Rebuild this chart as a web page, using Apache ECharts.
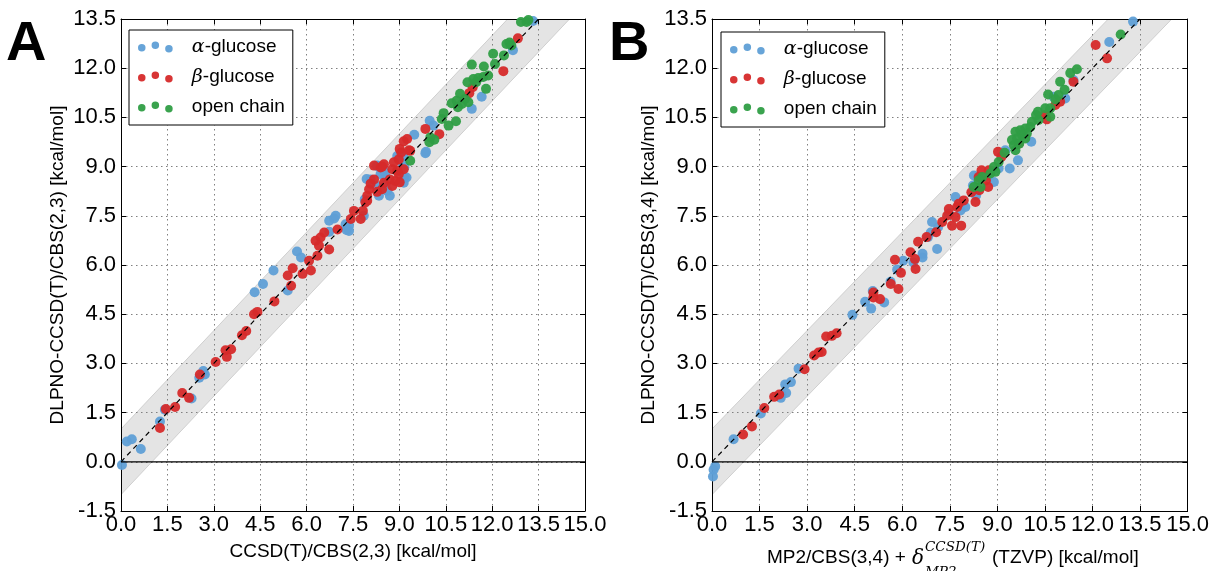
<!DOCTYPE html>
<html><head><meta charset="utf-8">
<script src="https://cdn.jsdelivr.net/npm/echarts@6/dist/echarts.min.js"></script>
<style>html,body{margin:0;padding:0;background:#fff}#c{width:1212px;height:571px}</style>
</head><body><div id="c"></div>
<script>
// ---------- data ----------
var seriesNames = ['α-glucose', 'β-glucose', 'open chain'];
var ticksX = [0, 1.5, 3, 4.5, 6, 7.5, 9, 10.5, 12, 13.5, 15];
var ticksY = [-1.5, 0, 1.5, 3, 4.5, 6, 7.5, 9, 10.5, 12, 13.5];
var bandX = [0, 15];       // x extent of the ±1 kcal/mol band
var bandHalf = 1;          // band half width
var diagLine = [[0, 0], [13.5, 13.5]];
var zeroLine = [[0, 0], [15, 0]];

// Panel A: CCSD(T)/CBS(2,3) vs DLPNO-CCSD(T)/CBS(2,3)
var alphaA = [[0.03,-0.1],[0.19,0.62],[0.35,0.69],[0.64,0.39],[1.26,1.23],[1.42,1.59],[2.28,1.93],[2.53,2.56],[2.66,2.77],[2.71,2.66],
 [4.32,5.17],[4.59,5.42],[4.93,5.83],[5.39,5.22],[5.69,6.41],[5.82,6.23],[6.73,7.35],[6.89,7.42],[6.73,7.01],[7.29,7.07],[7.37,7.2],
 [7.85,7.5],[7.91,7.96],[8.26,8.41],[8.28,9.02],[8.39,8.77],[8.55,8.72],[8.61,8.26],[8.34,8.11],[9.14,8.51],[9.16,8.67],[9.84,9.41],
 [9.09,9.12],[8.93,9.32],[8.07,8.61],[11.66,11.13],[11.34,10.76],[9.98,10.4],[10.1,10.25],[9.48,9.97],[9.86,9.45],[9.12,9.33],
 [9.16,8.98],[9.23,8.67],[8.5,8.87],[8.28,9.03],[7.94,8.62],[8.44,8.36],[8.55,8.47],[8.69,8.11],[7.88,8.0],[6.94,7.5],[7.26,7.24],
 [7.37,7.04],[12.67,12.55],[13.32,13.44]];
var betaA = [[1.26,1.03],[1.45,1.61],[1.75,1.67],[1.98,2.1],[2.2,1.95],[2.55,2.66],[3.06,3.04],[3.38,3.4],[3.42,3.2],[3.56,3.43],
 [3.91,3.86],[4.05,3.99],[4.3,4.5],[4.41,4.57],[4.96,4.89],[5.5,5.37],[5.39,5.68],[5.55,5.9],[5.87,5.73],[6.14,5.83],[6.08,6.13],
 [6.35,6.28],[6.29,6.74],[6.45,6.84],[6.57,6.99],[6.4,6.59],[6.73,6.47],[7.0,7.08],[7.43,7.4],[7.53,7.65],[7.82,7.65],[7.75,7.4],
 [7.96,7.96],[8.02,8.31],[8.07,8.48],[8.18,8.61],[8.28,8.23],[8.44,8.31],[8.5,8.51],[8.69,8.61],[8.77,8.41],[8.87,8.56],[8.98,8.77],
 [8.77,8.92],[8.39,8.97],[8.5,9.07],[8.98,9.22],[9.06,9.43],[9.35,9.48],[9.14,8.92],[12.36,11.91],[11.37,11.42],[11.26,11.24],
 [9.84,10.15],[10.29,9.99],[9.14,9.77],[9.25,9.84],[9.01,9.54],[9.31,9.5],[8.82,9.13],[8.93,8.87],[9.01,8.52],[8.44,9.0],[8.18,9.03],
 [7.96,8.11],[7.9,7.91],[12.83,12.91]];
var openA = [[12.03,12.44],[12.38,12.39],[12.46,12.74],[12.09,12.13],[11.73,12.05],[11.34,12.11],[11.87,11.78],[11.71,11.73],
 [11.55,11.7],[11.39,11.67],[11.2,11.57],[11.48,11.57],[11.8,11.37],[10.96,11.22],[11.12,11.06],[10.85,11.01],[11.02,10.91],
 [10.69,10.93],[10.89,10.81],[10.43,10.63],[10.37,10.45],[10.59,10.25],[10.83,10.38],[10.0,9.89],[9.97,9.74],[10.13,9.82],
 [9.35,9.18],[11.23,10.96],[12.93,13.41],[13.11,13.41],[13.17,13.47],[12.56,12.78],[12.62,12.69]];

// Panel B: MP2/CBS(3,4) + delta correction vs DLPNO-CCSD(T)/CBS(3,4)
var alphaB = [[0.05,-0.24],[0.03,-0.45],[0.1,-0.14],[0.68,0.69],[1.54,1.47],[2.2,2.05],[2.34,2.1],[2.31,2.36],[2.49,2.43],[2.17,1.95],
 [2.73,2.84],[4.43,4.48],[4.83,4.88],[5.02,4.67],[5.07,5.21],[5.43,4.86],[5.63,5.49],[5.84,5.86],[6.03,6.13],[6.35,6.08],[6.64,6.23],
 [6.64,6.34],[6.9,6.99],[7.13,7.15],[7.1,6.49],[10.07,9.76],[9.65,9.19],[9.39,8.94],[9.25,9.5],[9.04,8.94],[8.89,8.53],[8.71,8.73],
 [8.26,8.73],[8.23,8.42],[8.33,8.12],[7.68,8.07],[7.99,7.77],[7.84,7.66],[7.47,7.56],[6.94,7.31],[6.81,6.85],[11.14,11.08],
 [10.77,11.13],[11.4,11.64],[12.53,12.8],[13.28,13.42]];
var betaB = [[0.98,0.83],[1.26,1.08],[1.65,1.64],[1.96,1.98],[2.12,2.05],[2.92,2.82],[3.22,3.24],[3.36,3.33],[3.46,3.35],[3.6,3.82],
 [3.78,3.84],[3.93,3.92],[5.77,6.16],[5.64,5.42],[5.88,5.27],[5.96,5.76],[6.26,6.39],[6.4,6.18],[6.42,5.88],[6.5,6.71],[6.77,6.85],
 [5.09,5.16],[5.3,4.96],[5.09,5.01],[11.4,11.59],[9.02,9.45],[9.13,9.3],[10.49,10.57],[10.56,10.44],[9.67,9.7],[8.5,8.89],[8.73,8.89],
 [8.41,8.68],[8.64,8.58],[8.71,8.38],[8.43,8.28],[8.18,8.22],[8.31,7.92],[7.94,7.97],[7.78,7.87],[7.73,7.77],[7.47,7.71],[7.42,7.51],
 [7.68,7.46],[7.26,7.31],[7.57,7.2],[7.86,7.2],[7.07,7.0],[10.98,10.98],[10.83,10.88],[12.1,12.71],[12.46,12.3]];
var openB = [[11.3,11.85],[11.51,11.97],[10.98,11.59],[10.6,11.2],[11.12,11.34],[10.93,11.18],[10.83,11.05],[10.67,10.78],[10.28,10.67],
 [10.09,10.37],[10.3,10.42],[10.04,10.21],[9.88,10.16],[9.72,10.11],[9.57,10.06],[9.93,10.01],[9.78,9.96],[9.62,9.86],[9.46,9.81],
 [9.52,9.65],[9.69,9.7],[9.88,9.86],[9.57,9.5],[9.23,9.42],[9.04,9.14],[8.89,8.99],[8.94,8.84],[8.78,8.79],[8.52,8.68],[8.41,8.58],
 [8.47,8.38],[8.26,8.38],[10.51,10.78],[10.67,10.52],[10.22,10.57],[12.89,13.03]];

// ---------- styles ----------
var COLORS = ['#5f9fd6', '#d62a2a', '#2f9e44'];
var FONT = 'Liberation Sans, Arial, sans-serif';
var SERIF = 'DejaVu Serif, serif';

function xAxes(grid, pos) {
  var bottom = pos === 'bottom';
  return {
    type: 'value', gridIndex: grid, position: pos, min: ticksX[0], max: ticksX[ticksX.length - 1], interval: 1.5,
    axisLine: {show: true, onZero: false, lineStyle: {color: '#000', width: 1}},
    axisTick: {show: true, inside: true, length: 5, lineStyle: {color: '#000'}},
    axisLabel: {show: bottom, color: '#000', fontSize: 22, fontFamily: FONT, margin: 3,
      formatter: function (v) { return v.toFixed(1); }},
    splitLine: {show: bottom, lineStyle: {color: '#808080', type: [1.5, 3.5], width: 1}}
  };
}
function yAxes(grid, pos) {
  var left = pos === 'left';
  return {
    type: 'value', gridIndex: grid, position: pos, min: ticksY[0], max: ticksY[ticksY.length - 1], interval: 1.5,
    axisLine: {show: true, onZero: false, lineStyle: {color: '#000', width: 1}},
    axisTick: {show: true, inside: true, length: 5, lineStyle: {color: '#000'}},
    axisLabel: {show: left, color: '#000', fontSize: 22, fontFamily: FONT, margin: 5,
      formatter: function (v) { return v.toFixed(1); }},
    splitLine: {show: left, lineStyle: {color: '#808080', type: [1.5, 3.5], width: 1}}
  };
}

var xa = [xAxes(0, 'bottom'), xAxes(0, 'top'), xAxes(1, 'bottom'), xAxes(1, 'top')];
var ya = [yAxes(0, 'left'), yAxes(0, 'right'), yAxes(1, 'left'), yAxes(1, 'right')];
xa[0].name = 'CCSD(T)/CBS(2,3) [kcal/mol]';
xa[0].nameLocation = 'middle'; xa[0].nameGap = 31;
xa[0].nameTextStyle = {fontSize: 19, fontFamily: FONT, color: '#000'};
ya[0].name = 'DLPNO-CCSD(T)/CBS(2,3) [kcal/mol]';
ya[2].name = 'DLPNO-CCSD(T)/CBS(3,4) [kcal/mol]';
[ya[0], ya[2]].forEach(function (a) {
  a.nameLocation = 'middle'; a.nameGap = 54;
  a.nameTextStyle = {fontSize: 19, fontFamily: FONT, color: '#000'};
});

function bandSeries(g) {
  return {
    type: 'custom', xAxisIndex: g * 2, yAxisIndex: g * 2, clip: true, silent: true, z: -1,
    data: [bandX],
    renderItem: function (params, api) {
      var x0 = bandX[0], x1 = bandX[1];
      var pts = [[x0, x0 - bandHalf], [x1, x1 - bandHalf], [x1, x1 + bandHalf], [x0, x0 + bandHalf]].map(function (p) { return api.coord(p); });
      return {type: 'polygon', shape: {points: pts}, style: {fill: '#e4e4e4', stroke: '#cfcfcf', lineWidth: 1}};
    }
  };
}
function scatter(name, data, g, ci) {
  return {type: 'scatter', name: name, data: data, xAxisIndex: g * 2, yAxisIndex: g * 2, symbolSize: 10, z: 3,
    itemStyle: {color: COLORS[ci], opacity: 0.95}, silent: true};
}
function lineS(name, data, g, style, z) {
  return {type: 'line', name: name, data: data, xAxisIndex: g * 2, yAxisIndex: g * 2, symbol: 'none', z: z,
    lineStyle: style, silent: true};
}

var series = [];
[0, 1].forEach(function (g) {
  series.push(bandSeries(g));
  series.push(lineS('zero' + g, zeroLine, g, {color: '#000', width: 1.3}, 4));
});
series.push(scatter(seriesNames[0], alphaA, 0, 0));
series.push(scatter(seriesNames[1], betaA, 0, 1));
series.push(scatter(seriesNames[2], openA, 0, 2));
series.push(scatter(seriesNames[0], alphaB, 1, 0));
series.push(scatter(seriesNames[1], betaB, 1, 1));
series.push(scatter(seriesNames[2], openB, 1, 2));
[0, 1].forEach(function (g) {
  series.push(lineS('diag' + g, diagLine, g, {color: '#000', width: 1.2, type: [5, 4]}, 5));
});

// legend icon: three dots like matplotlib scatter legend
function circ(cx, cy, r) {
  return 'M' + (cx - r) + ',' + cy + 'a' + r + ',' + r + ' 0 1,0 ' + (2 * r) + ',0a' + r + ',' + r + ' 0 1,0 ' + (-2 * r) + ',0Z';
}
var legendIcon = 'path://' + circ(3.8, 6.3, 3.8) + circ(17.5, 3.8, 3.8) + circ(31.2, 7.3, 3.8);
function legend(left, top) {
  return {
    orient: 'vertical', left: left, top: top, data: seriesNames, icon: legendIcon,
    itemWidth: 35, itemHeight: 11, itemGap: 10, padding: [7, 8, 8, 9],
    borderColor: '#000', borderWidth: 1, borderRadius: 0, backgroundColor: '#fff', selectedMode: false,
    textStyle: {fontSize: 19, fontFamily: FONT, color: '#000', lineHeight: 20, padding: [0, 0, 0, 14],
      rich: {g: {fontFamily: SERIF, fontStyle: 'italic', fontSize: 19, color: '#000'}}},
    formatter: function (n) {
      if (n === seriesNames[0]) return '{g|α}-glucose';
      if (n === seriesNames[1]) return '{g|β}-glucose';
      return n;
    }
  };
}

var option = {
  animation: false,
  backgroundColor: '#fff',
  grid: [
    {left: 121, top: 19, width: 464, height: 492, containLabel: false},
    {left: 712, top: 19, width: 478, height: 492, containLabel: false}
  ],
  xAxis: xa, yAxis: ya,
  legend: [legend(129, 30), legend(721, 32)],
  series: series,
  graphic: [
    {type: 'text', left: 6, top: 17, style: {text: 'A', fontSize: 56, fontWeight: 'bold', fontFamily: FONT, fill: '#000'}},
    {type: 'text', left: 609, top: 17, style: {text: 'B', fontSize: 56, fontWeight: 'bold', fontFamily: FONT, fill: '#000'}},
    {type: 'text', x: 767, y: 558, style: {text: 'MP2/CBS(3,4) + ', fontSize: 19, fontFamily: FONT, fill: '#000', verticalAlign: 'middle'}},
    {type: 'text', x: 912, y: 559, style: {text: 'δ', fontSize: 20, fontStyle: 'italic', fontFamily: SERIF, fill: '#000', verticalAlign: 'middle'}},
    {type: 'text', x: 925, y: 547, style: {text: 'CCSD(T)', fontSize: 13.5, fontStyle: 'italic', fontFamily: SERIF, fill: '#000', verticalAlign: 'middle'}},
    {type: 'text', x: 925, y: 572, style: {text: 'MP2', fontSize: 13.5, fontStyle: 'italic', fontFamily: SERIF, fill: '#000', verticalAlign: 'middle'}},
    {type: 'text', x: 992, y: 558, style: {text: '(TZVP) [kcal/mol]', fontSize: 19, fontFamily: FONT, fill: '#000', verticalAlign: 'middle'}}
  ]
};
var chart = echarts.init(document.getElementById('c'), null, {renderer: 'canvas'});
chart.setOption(option);
</script></body></html>
